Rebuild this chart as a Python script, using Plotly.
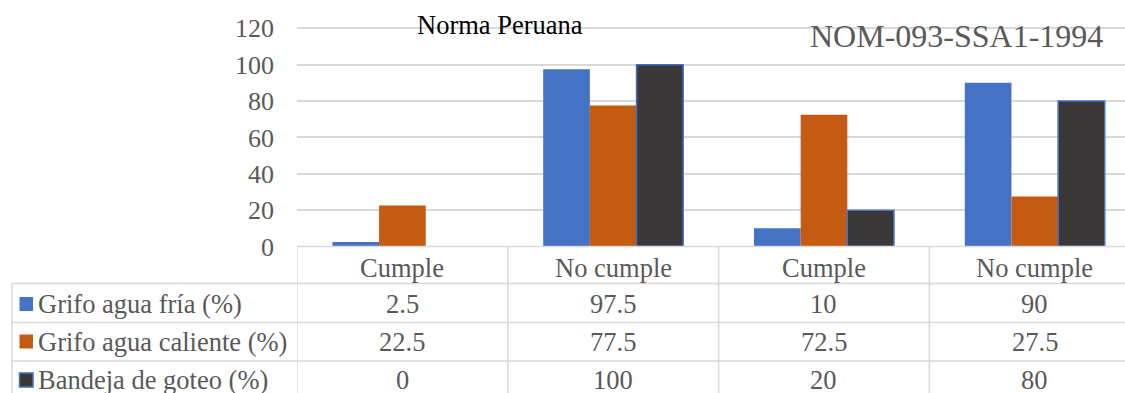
import plotly.graph_objects as go

# ---- data -------------------------------------------------------------
categories = ["Cumple", "No cumple", "Cumple", "No cumple"]
series_names = ["Grifo agua fría (%)", "Grifo agua caliente (%)", "Bandeja de goteo (%)"]
grifo_fria = [2.5, 97.5, 10, 90]
grifo_caliente = [22.5, 77.5, 72.5, 27.5]
bandeja_goteo = [0, 100, 20, 80]
y_ticks = [0, 20, 40, 60, 80, 100, 120]
title_left = "Norma Peruana"
title_right = "NOM-093-SSA1-1994"

# ---- styling ----------------------------------------------------------
W, H = 1125, 393
FONT = "Liberation Serif, Times New Roman, serif"
GREY_TXT = "#595959"
GRID = "#D9D9D9"
fills = ["#4472C4", "#C55A11", "#3A3838"]
edges = ["#4472C4", "#C55A11", "#4472C4"]
series = [grifo_fria, grifo_caliente, bandeja_goteo]


def fx(px):
    return px / W


def fy(py):
    return 1 - py / H


plot_left, axis_y = 297, 246.5
row_lines = [283.5, 322.5, 361, 399.5]
header_mid = 267.5
row_mids = [304, 341.5, 380]

fig = go.Figure()
xs = list(range(len(categories)))
for name, vals, fc, ec in zip(series_names, series, fills, edges):
    outline = 1.5 if fc != ec else 0
    fig.add_trace(go.Bar(
        x=xs, y=vals, name=name, showlegend=False,
        marker=dict(color=fc,
                    line=dict(color=ec, width=[outline if v else 0 for v in vals])),
    ))

shapes = []
# horizontal table rules
shapes.append(dict(type="line", xref="paper", yref="paper",
                   x0=fx(plot_left), x1=1, y0=fy(axis_y), y1=fy(axis_y),
                   line=dict(color=GRID, width=1.5)))
for ly in row_lines:
    shapes.append(dict(type="line", xref="paper", yref="paper",
                       x0=fx(12), x1=1, y0=fy(ly), y1=fy(ly),
                       line=dict(color=GRID, width=1.5)))
# vertical table rules
shapes.append(dict(type="line", xref="paper", yref="paper",
                   x0=fx(12), x1=fx(12), y0=fy(row_lines[0]), y1=0,
                   line=dict(color=GRID, width=1.5)))
for b in [i - 0.5 for i in range(len(categories))]:
    shapes.append(dict(type="line", xref="x", yref="paper",
                       x0=b, x1=b, y0=fy(axis_y), y1=0,
                       line=dict(color=GRID, width=1.5)))
# legend keys
for mid, fc, ec in zip(row_mids, fills, edges):
    shapes.append(dict(type="rect", xref="paper", yref="paper",
                       x0=fx(19.5), x1=fx(33), y0=fy(mid - 7), y1=fy(mid + 7),
                       fillcolor=fc, line=dict(color=ec, width=1.5 if fc != ec else 0)))

annotations = []
cell_font = dict(family=FONT, size=26.5, color=GREY_TXT)
for i, cat in enumerate(categories):
    annotations.append(dict(x=i, y=fy(header_mid), xref="x", yref="paper",
                            text=cat, showarrow=False, font=cell_font,
                            xanchor="center", yanchor="middle"))
for mid, name, vals in zip(row_mids, series_names, series):
    annotations.append(dict(x=fx(36), y=fy(mid), xref="paper", yref="paper",
                            text=name, showarrow=False, font=cell_font,
                            xanchor="left", yanchor="middle"))
    for i, v in enumerate(vals):
        annotations.append(dict(x=i, y=fy(mid), xref="x", yref="paper",
                                text=f"{v:g}", showarrow=False, font=cell_font,
                                xanchor="center", yanchor="middle"))
annotations.append(dict(x=fx(500), y=fy(25), xref="paper", yref="paper",
                        text=title_left, showarrow=False,
                        font=dict(family=FONT, size=26.5, color="#000000"),
                        xanchor="center", yanchor="middle"))
annotations.append(dict(x=fx(956), y=fy(36), xref="paper", yref="paper",
                        text=title_right, showarrow=False,
                        font=dict(family=FONT, size=32, color=GREY_TXT),
                        xanchor="center", yanchor="middle"))

px_per_unit = (axis_y - 28.3) / 120
y_top = 125
fig.update_layout(
    width=W, height=H,
    margin=dict(l=0, r=0, t=0, b=0, pad=0, autoexpand=False),
    paper_bgcolor="white", plot_bgcolor="white",
    barmode="group", bargap=0.336, bargroupgap=0,
    shapes=shapes, annotations=annotations,
    xaxis=dict(domain=[fx(plot_left), 1], range=[-0.5, 3.428],
               showticklabels=False, showgrid=False, zeroline=False,
               showline=False, fixedrange=True, automargin=False),
    yaxis=dict(domain=[fy(axis_y), fy(axis_y - y_top * px_per_unit)],
               range=[0, y_top], tickvals=y_ticks,
               showgrid=True, gridcolor=GRID, gridwidth=1.5,
               zeroline=False, showline=False, ticks="",
               ticklabelstandoff=22, automargin=False,
               tickfont=dict(family=FONT, size=26, color=GREY_TXT)),
    font=dict(family=FONT),
)

fig.write_html("out.html")
